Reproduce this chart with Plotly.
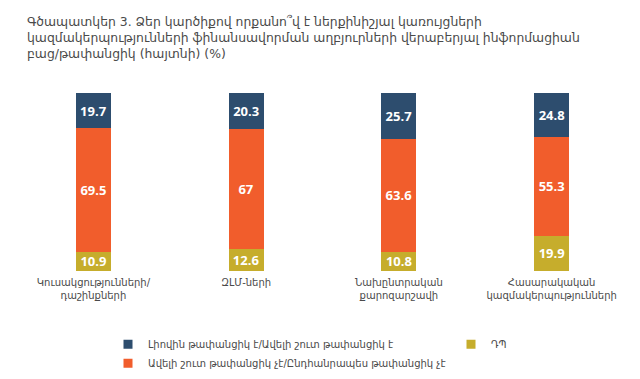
import plotly.graph_objects as go

categories = ["Կուսակցությունների/<br>դաշինքների", "ԶԼՄ-ների", "Նախընտրական<br>քարոզարշավի", "Հասարակական<br>կազմակերպությունների"]
full_transparent = [19.7, 20.3, 25.7, 24.8]
not_transparent = [69.5, 67, 63.6, 55.3]
dont_know = [10.9, 12.6, 10.8, 19.9]

series_names = [
    "Լիովին թափանցիկ է/Ավելի շուտ թափանցիկ է",
    "Ավելի շուտ թափանցիկ չէ/Ընդհանրապես թափանցիկ չէ",
    "ԴՊ",
]
colors = ["#2d4d6e", "#f15d2c", "#c6ad2c"]

title_text = ("Գծապատկեր 3. Ձեր կարծիքով որքանո՞վ է ներքինիշյալ կառույցների<br>"
              "կազմակերպությունների ֆինանսավորման աղբյուրների վերաբերյալ ինֆորմացիան<br>"
              "բաց/թափանցիկ (հայտնի) (%)")

fig = go.Figure()
stack_order = [(dont_know, 2), (not_transparent, 1), (full_transparent, 0)]
for vals, i in stack_order:
    fig.add_trace(go.Bar(
        x=categories, y=vals, name=series_names[i],
        marker=dict(color=colors[i], line=dict(width=0)),
        text=[f"{v:g}" for v in vals], textposition="inside",
        insidetextanchor="middle",
        textfont=dict(family="Open Sans", size=13, color="white", weight="bold"),
        width=0.229, showlegend=False, hoverinfo="skip",
    ))

# legend entries
for i, leg in [(0, "legend"), (1, "legend"), (2, "legend2")]:
    fig.add_trace(go.Scatter(
        x=[None], y=[None], mode="markers", name=series_names[i],
        marker=dict(symbol="square", size=9, color=colors[i]),
        legend=leg, showlegend=True,
    ))

fig.add_annotation(
    text=title_text, xref="paper", yref="paper",
    x=(17-9)/611, y=(268-2)/183, xanchor="left", yanchor="top",
    align="left", showarrow=False,
    font=dict(family="DejaVu Sans", size=12.4, color="#4a4a4a"),
)

fig.update_layout(
    width=640, height=379,
    barmode="stack",
    paper_bgcolor="white", plot_bgcolor="white",
    margin=dict(l=9, r=20, t=85, b=111),
    xaxis=dict(showgrid=False, showline=False, ticks="", zeroline=False,
               ticklabelstandoff=4,
               tickfont=dict(family="DejaVu Sans", size=10, color="#4a4a4a")),
    yaxis=dict(range=[0, 100.1], visible=False),
    uniformtext=dict(minsize=13, mode="show"),
    legend=dict(x=(100-9)/611, xanchor="left", y=-0.33, yanchor="top",
                orientation="v", traceorder="normal", bgcolor="rgba(0,0,0,0)",
                font=dict(family="DejaVu Sans", size=10, color="#4a4a4a")),
    legend2=dict(x=(443-9)/611, xanchor="left", y=-0.33, yanchor="top",
                 orientation="v", traceorder="normal", bgcolor="rgba(0,0,0,0)",
                 font=dict(family="DejaVu Sans", size=10, color="#4a4a4a")),
)

fig.write_html("out.html")
